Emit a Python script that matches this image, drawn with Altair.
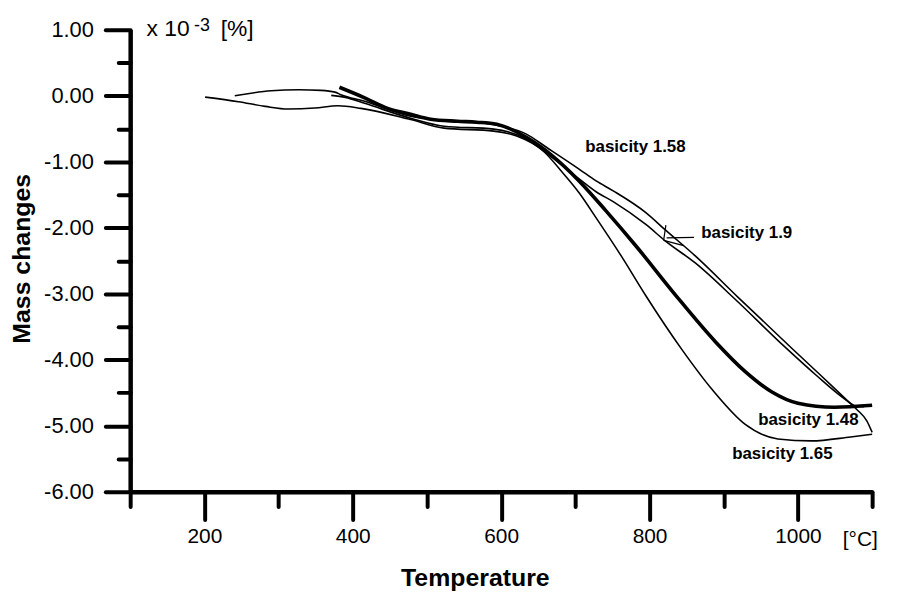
import altair as alt
import pandas as pd

# ---- data ----
b165_x = [201, 246, 282, 313, 349, 380, 411, 478, 523, 590, 621, 657, 684, 705, 728, 762, 795, 842, 885, 929, 973, 1018, 1071, 1100]
b165_y = [-0.02, -0.09, -0.16, -0.20, -0.185, -0.15, -0.19, -0.36, -0.49, -0.535, -0.61, -0.84, -1.18, -1.47, -1.85, -2.43, -3.03, -3.82, -4.46, -4.98, -5.20, -5.23, -5.17, -5.13]

b148_x = [382, 416, 447, 478, 505, 541, 567, 594, 634, 669, 705, 741, 782, 835, 889, 929, 965, 1000, 1049, 1100]
b148_y = [0.13, -0.03, -0.19, -0.28, -0.355, -0.385, -0.40, -0.43, -0.63, -0.91, -1.29, -1.74, -2.28, -3.02, -3.73, -4.18, -4.49, -4.66, -4.72, -4.69]

b158_x = [241, 290, 327, 357, 376, 384, 416, 478, 505, 567, 594, 634, 661, 705, 728, 751, 795, 822, 862, 919, 992, 1032, 1062, 1079, 1093, 1100]
b158_y = [0.0, 0.077, 0.092, 0.082, 0.056, 0.017, -0.084, -0.31, -0.355, -0.40, -0.445, -0.58, -0.78, -1.11, -1.29, -1.44, -1.77, -2.04, -2.43, -3.05, -3.83, -4.25, -4.57, -4.75, -4.93, -5.10]

b19_x = [371, 390, 416, 478, 523, 590, 634, 661, 705, 728, 751, 795, 822, 862, 915, 982, 1025, 1060, 1079, 1089]
b19_y = [0.007, -0.024, -0.114, -0.34, -0.46, -0.505, -0.656, -0.867, -1.258, -1.454, -1.604, -1.95, -2.206, -2.537, -3.079, -3.802, -4.239, -4.569, -4.705, -4.71]

thin_names = ["basicity 1.65", "basicity 1.58", "basicity 1.9"]
thick_name = "basicity 1.48"

label_text = ["basicity 1.58", "basicity 1.9", "basicity 1.48", "basicity 1.65"]
label_x = [781, 931, 1014, 979]
label_y = [-0.85, -2.16, -4.99, -5.50]

arrow_x = [860, 822, 819]
arrow_x2 = [823, 819, 846]
arrow_y = [-2.146, -1.96, -2.19]
arrow_y2 = [-2.154, -2.19, -2.27]

unit_text = ["x 10", "[%]"]
unit_x = [122, 222]
unit_y = [0.91, 0.91]
sup_text = ["-3"]
sup_x = [186]
sup_y = [0.985]
degc_text = ["[°C]"]
degc_x = [1084]
degc_y = [-6.82]

x_major = [200, 400, 600, 800, 1000]
x_minor = [100, 300, 500, 700, 900, 1100]
y_major = [-6, -5, -4, -3, -2, -1, 0, 1]
y_minor = [-5.5, -4.5, -3.5, -2.5, -1.5, -0.5, 0.5]

FONT = "Liberation Sans"


def frame(names, xs_list, ys_list):
    rows = []
    for name, xs, ys in zip(names, xs_list, ys_list):
        for i, (a, b) in enumerate(zip(xs, ys)):
            rows.append({"series": name, "T": a, "m": b, "order": i})
    return pd.DataFrame(rows)


df_thin = frame(thin_names, [b165_x, b158_x, b19_x], [b165_y, b158_y, b19_y])
df_thick = frame([thick_name], [b148_x], [b148_y])

xscale = alt.Scale(domain=[100, 1100], nice=False, zero=False)
yscale = alt.Scale(domain=[-6, 1], nice=False, zero=False)

xaxis = alt.Axis(
    orient="bottom", values=x_major, format="d",
    tickSize=28, tickWidth=4, tickColor="black", tickCap="round",
    domainWidth=4.5, domainColor="black",
    labelFont=FONT, labelFontSize=21, labelColor="black", labelPadding=6,
    labelFlush=False, labelOverlap=False,
    title="Temperature", titleFont=FONT, titleFontSize=25, titleFontWeight="bold",
    titleColor="black", titleX=347, titleY=86, titleBaseline="middle", titleAnchor="middle",
    grid=False,
)
yaxis = alt.Axis(
    orient="left", values=y_major,
    labelExpr="(datum.value < 0 ? '-' : '') + format(abs(datum.value), '.2f')",
    tickSize=25, tickWidth=4, tickColor="black", tickCap="round",
    domainWidth=4.5, domainColor="black",
    labelFont=FONT, labelFontSize=22, labelColor="black", labelPadding=12,
    labelFlush=False, labelOverlap=False,
    title="Mass changes", titleFont=FONT, titleFontSize=25, titleFontWeight="bold",
    titleColor="black", titleX=-109, titleY=230, titleAngle=270,
    titleBaseline="middle", titleAlign="center",
    grid=False,
)
xaxis_minor = alt.Axis(
    orient="bottom", values=x_minor, tickSize=15, tickWidth=4, tickColor="black", tickCap="round",
    labels=False, domain=False, title=None, grid=False,
)
yaxis_minor = alt.Axis(
    orient="left", values=y_minor, tickSize=12, tickWidth=4, tickColor="black", tickCap="round",
    labels=False, domain=False, title=None, grid=False,
)

thin = alt.Chart(df_thin).mark_line(interpolate="monotone", color="black", strokeWidth=1.6).encode(
    x=alt.X("T:Q", scale=xscale, axis=xaxis),
    y=alt.Y("m:Q", scale=yscale, axis=yaxis),
    detail="series:N",
    order="order:Q",
)
thick = alt.Chart(df_thick).mark_line(interpolate="monotone", color="black", strokeWidth=3.6).encode(
    x=alt.X("T:Q", scale=xscale, axis=None),
    y=alt.Y("m:Q", scale=yscale, axis=None),
    detail="series:N",
    order="order:Q",
)

labels = alt.Chart(pd.DataFrame({"t": label_text, "x": label_x, "y": label_y})).mark_text(
    font=FONT, fontSize=17, fontWeight="bold", color="black", align="center", baseline="alphabetic"
).encode(x=alt.X("x:Q", scale=xscale, axis=xaxis_minor),
         y=alt.Y("y:Q", scale=yscale, axis=yaxis_minor), text="t:N")

arrow = alt.Chart(pd.DataFrame({"x": arrow_x, "x2": arrow_x2, "y": arrow_y, "y2": arrow_y2})).mark_rule(
    color="black", strokeWidth=1.2
).encode(x=alt.X("x:Q", scale=xscale, axis=None), x2="x2:Q",
         y=alt.Y("y:Q", scale=yscale, axis=None), y2="y2:Q")

units = alt.Chart(pd.DataFrame({"t": unit_text, "x": unit_x, "y": unit_y})).mark_text(
    font=FONT, fontSize=23, color="black", align="left", baseline="alphabetic", clip=False
).encode(x=alt.X("x:Q", scale=xscale, axis=None), y=alt.Y("y:Q", scale=yscale, axis=None), text="t:N")

sup = alt.Chart(pd.DataFrame({"t": sup_text, "x": sup_x, "y": sup_y})).mark_text(
    font=FONT, fontSize=18, color="black", align="left", baseline="alphabetic", clip=False
).encode(x=alt.X("x:Q", scale=xscale, axis=None), y=alt.Y("y:Q", scale=yscale, axis=None), text="t:N")

degc = alt.Chart(pd.DataFrame({"t": degc_text, "x": degc_x, "y": degc_y})).mark_text(
    font=FONT, fontSize=21, color="black", align="center", baseline="alphabetic", clip=False
).encode(x=alt.X("x:Q", scale=xscale, axis=None), y=alt.Y("y:Q", scale=yscale, axis=None), text="t:N")

chart = alt.layer(thin, thick, labels, arrow, units, sup, degc).resolve_axis(
    x="independent", y="independent"
).properties(
    width=747, height=465,
    autosize=alt.AutoSizeParams(type="none"),
    padding={"left": 123, "top": 20, "right": 20, "bottom": 100},
    background="white",
).configure_view(stroke=None)

chart.save("out.html", embed_options={"renderer": "svg", "actions": False})
